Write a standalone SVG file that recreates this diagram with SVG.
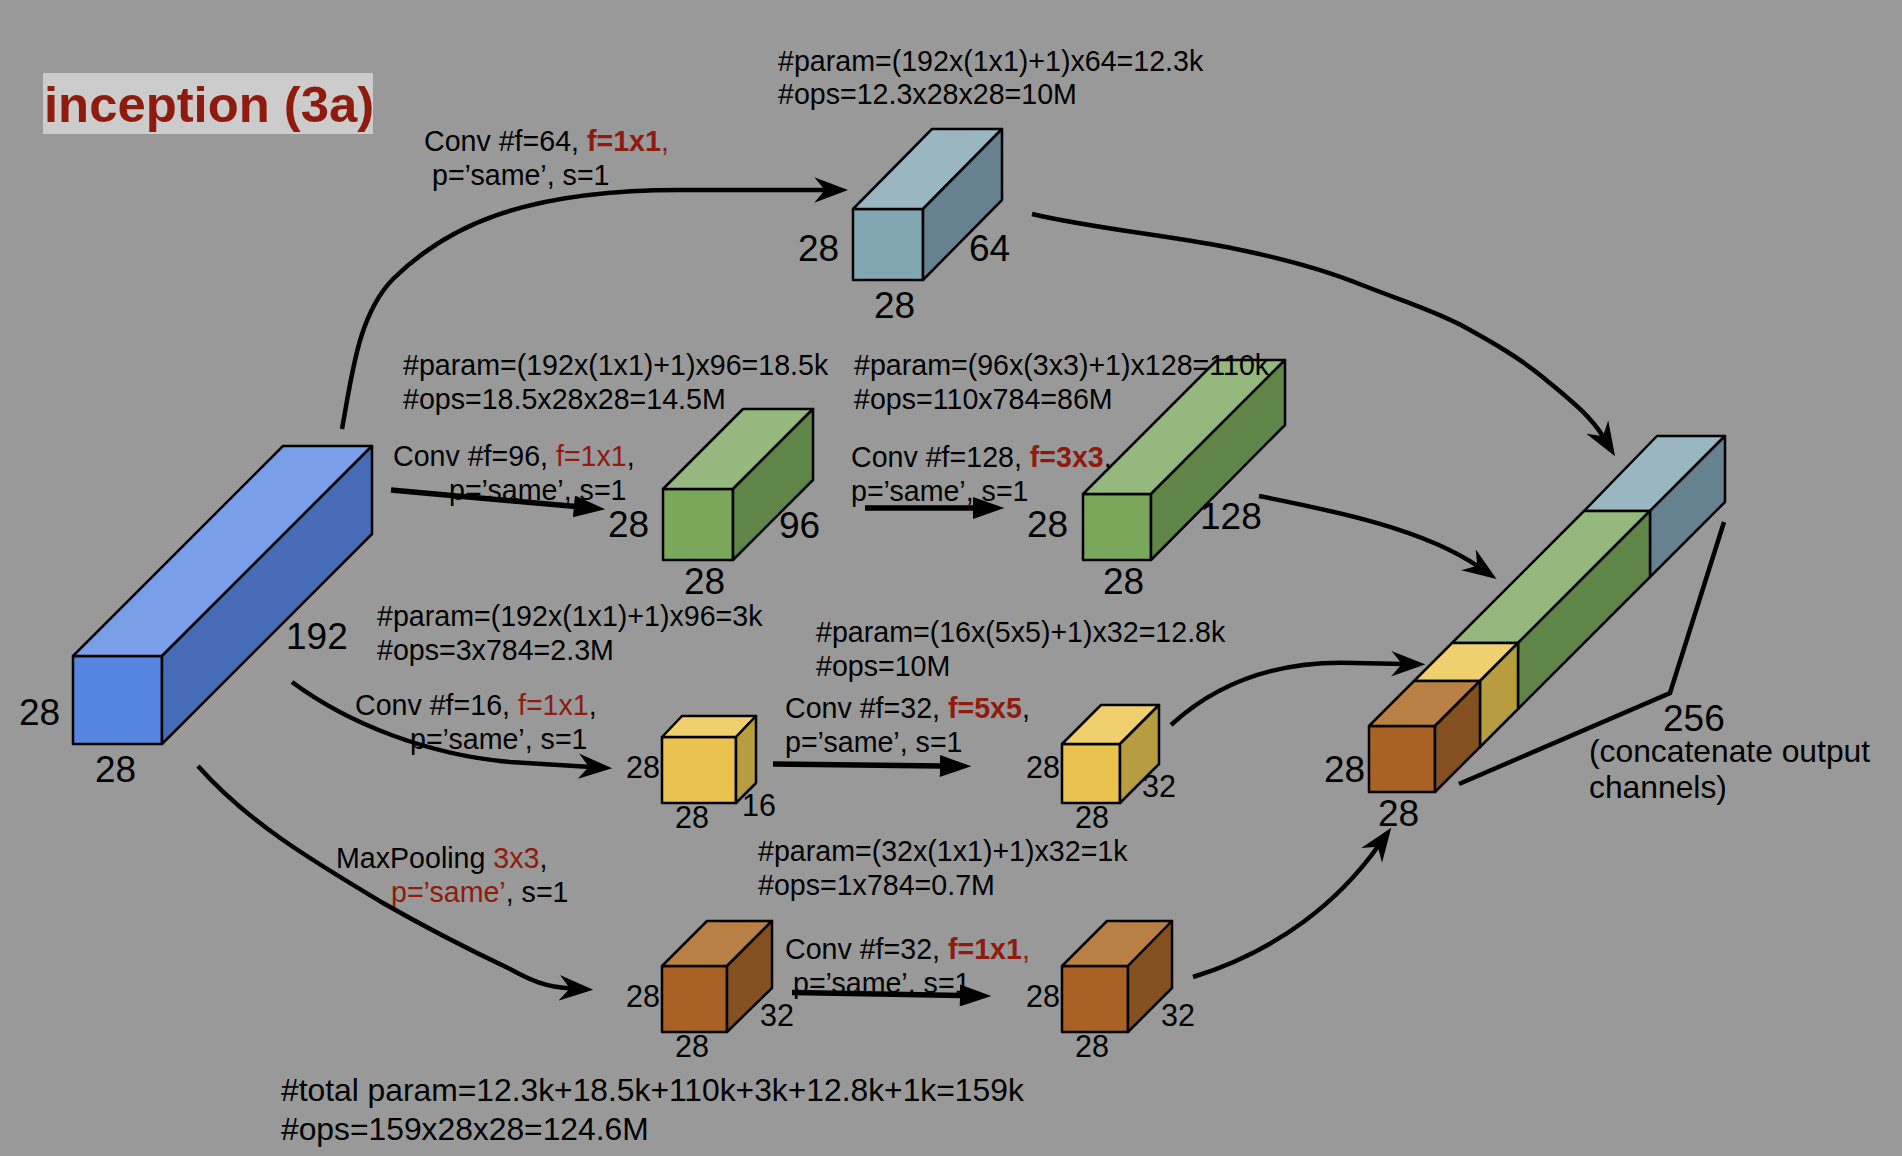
<svg xmlns="http://www.w3.org/2000/svg" width="1902" height="1156" viewBox="0 0 1902 1156">
<style>
text{font-family:"Liberation Sans",Arial,sans-serif;fill:#000;transform:translateY(.4px)}
.a{font-size:28.6px}
.t{font-size:31.8px}
.w{font-size:31.8px}
.d{font-size:37px}
.m{font-size:30.5px}
.r{fill:#8f1a0e}
.b{font-weight:bold}
.title{font-size:50.8px;font-weight:bold;fill:#8f1a0e;transform:none}
polygon{stroke:#000;stroke-width:2.5;stroke-linejoin:round}
.c{fill:none;stroke:#000;stroke-width:4.5}
.s{marker-end:url(#stealth)}
.k{stroke-width:5.5;marker-end:url(#block)}
.bf{fill:#5686e0}.bt{fill:#7a9ee8}.bs{fill:#466cb8}
.tf{fill:#82a7b2}.tt{fill:#9ab7c1}.ts{fill:#668290}
.gf{fill:#7ba75b}.gt{fill:#94b87d}.gs{fill:#5f8549}
.yf{fill:#e9c24f}.yt{fill:#f0d06e}.ys{fill:#b89c40}
.wf{fill:#a96224}.wt{fill:#b98045}.ws{fill:#855020}
</style>
<defs>
<marker id="stealth" markerUnits="userSpaceOnUse" markerWidth="34" markerHeight="26" viewBox="0 0 32 24" refX="12" refY="12" orient="auto"><path d="M0,0L32,12L0,24L10,12Z" fill="#000"/></marker>
<marker id="block" markerUnits="userSpaceOnUse" markerWidth="32" markerHeight="22" viewBox="0 0 30 21" refX="2" refY="10.5" orient="auto"><path d="M0,0L30,10.5L0,21Z" fill="#000"/></marker>
</defs>
<rect width="1902" height="1156" fill="#999999"/>
<g id="title"><rect x="43" y="73" width="330" height="61" fill="#cccccc"/><text class="title" x="44" y="122">inception (3a)</text></g>

<g id="input-192">
<polygon class="bf" points="73,656 162,656 162,744 73,744"/>
<polygon class="bt" points="73,656 283,446 372,446 162,656"/>
<polygon class="bs" points="162,656 372,446 372,534 162,744"/>
<text class="d" x="19" y="725">28</text><text class="d" x="95" y="782">28</text><text class="d" x="286" y="649">192</text>
</g>
<g id="conv-64">
<polygon class="tf" points="853,209 923,209 923,280 853,280"/>
<polygon class="tt" points="853,209 932,129 1002,129 923,209"/>
<polygon class="ts" points="923,209 1002,129 1002,200 923,280"/>
<text class="d" x="798" y="261">28</text><text class="d" x="969" y="261">64</text><text class="d" x="874" y="318">28</text>
</g>
<g id="conv-96">
<polygon class="gf" points="663,489 733,489 733,560 663,560"/>
<polygon class="gt" points="663,489 743,409 813,409 733,489"/>
<polygon class="gs" points="733,489 813,409 813,480 733,560"/>
<text class="d" x="608" y="537">28</text><text class="d" x="779" y="538">96</text><text class="d" x="684" y="594">28</text>
</g>
<g id="conv-128">
<polygon class="gf" points="1083,494 1151,494 1151,560 1083,560"/>
<polygon class="gt" points="1083,494 1217,360 1285,360 1151,494"/>
<polygon class="gs" points="1151,494 1285,360 1285,425 1151,560"/>
<text class="d" x="1027" y="537">28</text><text class="d" x="1200" y="529">128</text><text class="d" x="1103" y="594">28</text>
</g>
<g id="conv-16">
<polygon class="yf" points="662,737 736,737 736,803 662,803"/>
<polygon class="yt" points="662,737 682,716 756,716 736,737"/>
<polygon class="ys" points="736,737 756,716 756,783 736,803"/>
<text class="m" x="626" y="778">28</text><text class="m" x="742" y="816">16</text><text class="m" x="675" y="828">28</text>
</g>
<g id="conv-32-a">
<polygon class="yf" points="1062,744 1120,744 1120,803 1062,803"/>
<polygon class="yt" points="1062,744 1101,705 1159,705 1120,744"/>
<polygon class="ys" points="1120,744 1159,705 1159,764 1120,803"/>
<text class="m" x="1026" y="778">28</text><text class="m" x="1142" y="797">32</text><text class="m" x="1075" y="828">28</text>
</g>
<g id="pool-32">
<polygon class="wf" points="662,966 727,966 727,1032 662,1032"/>
<polygon class="wt" points="662,966 707,921 772,921 727,966"/>
<polygon class="ws" points="727,966 772,921 772,988 727,1032"/>
<text class="m" x="626" y="1007">28</text><text class="m" x="760" y="1026">32</text><text class="m" x="675" y="1057">28</text>
</g>
<g id="conv-32-b">
<polygon class="wf" points="1062,966 1128,966 1128,1032 1062,1032"/>
<polygon class="wt" points="1062,966 1107,921 1172,921 1128,966"/>
<polygon class="ws" points="1128,966 1172,921 1172,988 1128,1032"/>
<text class="m" x="1026" y="1007">28</text><text class="m" x="1161" y="1026">32</text><text class="m" x="1075" y="1057">28</text>
</g>
<g id="concat-256">
<polygon class="tt" points="1584,511 1657,436 1725,436 1650,511"/>
<polygon class="ts" points="1650,511 1725,436 1725,502 1650,577"/>
<polygon class="gt" points="1452,643 1584,511 1650,511 1518,643"/>
<polygon class="gs" points="1518,643 1650,511 1650,577 1518,709"/>
<polygon class="yt" points="1414,681 1452,643 1518,643 1480,681"/>
<polygon class="ys" points="1480,681 1518,643 1518,709 1480,747"/>
<polygon class="wf" points="1369,726 1435,726 1435,792 1369,792"/>
<polygon class="wt" points="1369,726 1414,681 1480,681 1435,726"/>
<polygon class="ws" points="1435,726 1480,681 1480,747 1435,792"/>
<text class="d" x="1324" y="782">28</text><text class="d" x="1378" y="826">28</text><text class="d" x="1663" y="731">256</text>
<text class="w" x="1589" y="762">(concatenate output</text><text class="w" x="1589" y="798">channels)</text>
</g>

<g id="annotations">
<text class="a" x="778" y="71">#param=(192x(1x1)+1)x64=12.3k</text>
<text class="a" x="778" y="104">#ops=12.3x28x28=10M</text>
<text class="a" x="424" y="151">Conv #f=64, <tspan class="r b">f=1x1</tspan><tspan class="r">,</tspan></text>
<text class="a" x="432" y="185">p=’same’, s=1</text>
<text class="a" x="403" y="375">#param=(192x(1x1)+1)x96=18.5k</text>
<text class="a" x="403" y="409">#ops=18.5x28x28=14.5M</text>
<text class="a" x="393" y="466">Conv #f=96, <tspan class="r">f=1x1</tspan>,</text>
<text class="a" x="449" y="500">p=’same’, s=1</text>
<text class="a" x="854" y="375">#param=(96x(3x3)+1)x128=110k</text>
<text class="a" x="854" y="409">#ops=110x784=86M</text>
<text class="a" x="851" y="467">Conv #f=128, <tspan class="r b">f=3x3</tspan>,</text>
<text class="a" x="851" y="501">p=’same’, s=1</text>
<text class="a" x="377" y="626">#param=(192x(1x1)+1)x96=3k</text>
<text class="a" x="377" y="660">#ops=3x784=2.3M</text>
<text class="a" x="355" y="715">Conv #f=16, <tspan class="r">f=1x1</tspan>,</text>
<text class="a" x="410" y="749">p=’same’, s=1</text>
<text class="a" x="816" y="642">#param=(16x(5x5)+1)x32=12.8k</text>
<text class="a" x="816" y="676">#ops=10M</text>
<text class="a" x="785" y="718">Conv #f=32, <tspan class="r b">f=5x5</tspan>,</text>
<text class="a" x="785" y="752">p=’same’, s=1</text>
<text class="a" x="336" y="868">MaxPooling <tspan class="r">3x3</tspan>,</text>
<text class="a" x="391" y="902"><tspan class="r">p=’same’</tspan>, s=1</text>
<text class="a" x="758" y="861">#param=(32x(1x1)+1)x32=1k</text>
<text class="a" x="758" y="895">#ops=1x784=0.7M</text>
<text class="a" x="785" y="959">Conv #f=32, <tspan class="r b">f=1x1</tspan><tspan class="r">,</tspan></text>
<text class="a" x="793" y="993">p=’same’, s=1</text>
<text class="t" x="281" y="1101">#total param=12.3k+18.5k+110k+3k+12.8k+1k=159k</text>
<text class="t" x="281" y="1140">#ops=159x28x28=124.6M</text>
</g>

<g id="connectors">
<path class="c s" d="M342,429C352,375 358,315 393,279C445,228 520,190 680,190L827,190"/>
<path class="c s" d="M1032,214C1090,228 1180,237 1236,249C1280,258 1325,270 1362,285C1400,300 1430,309 1461,325C1492,342 1520,358 1545,379C1570,400 1590,415 1604,438"/>
<path class="c s" d="M1259,496C1340,512 1425,530 1479,567"/>
<path class="c s" d="M1171,725C1220,680 1280,660 1355,663L1404,664"/>
<path class="c s" d="M1193,977C1280,950 1340,900 1379,845"/>
<path class="c" d="M1459,784L1670,693L1724,522"/>
<path class="c k" d="M391,490L576,506.6"/>
<path class="c k" d="M865,508L975,508"/>
<path class="c s" d="M292,682C350,725 430,755 510,762L591,767"/>
<path class="c k" d="M773,764L942,766"/>
<path class="c s" d="M198,766C250,825 320,865 383,903C430,930 470,950 510,969C530,980 545,987 572,988.5"/>
<path class="c k" d="M792,992.6L962,995.5"/>
</g>
</svg>
